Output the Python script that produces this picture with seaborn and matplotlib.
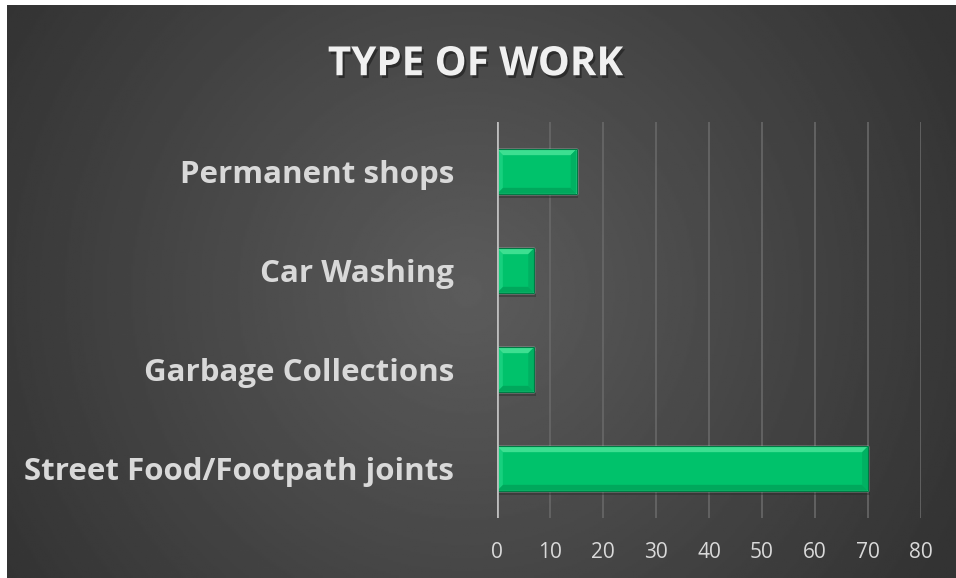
import numpy as np
import pandas as pd
import seaborn as sns
import matplotlib.pyplot as plt
import matplotlib.patheffects as pe
from matplotlib.patches import Polygon, Rectangle

# data
categories = ['Permanent shops', 'Car Washing', 'Garbage Collections', 'Street Food/Footpath joints']
values = [15, 7, 7, 70]
x_ticks = [0, 10, 20, 30, 40, 50, 60, 70, 80]

df = pd.DataFrame({'work': categories, 'count': values})

sns.set_style('dark')
plt.rcParams['font.family'] = ['Open Sans', 'DejaVu Sans']

fig = plt.figure(figsize=(9.56, 5.78), dpi=100, facecolor='white')

# radial gradient background (leaves a thin white strip top/left like the source)
bg = fig.add_axes([7 / 956, 0, 949 / 956, 573 / 578])
yy, xx = np.mgrid[0:1:300j, 0:1.65:500j]
r = np.sqrt((xx - 0.8) ** 2 + (yy - 0.5) ** 2)
shade = 0.36 - 0.16 * np.clip(r / 0.95, 0, 1)
bg.imshow(shade, cmap='gray', vmin=0, vmax=1, aspect='auto', extent=[0, 1, 0, 1])
bg.axis('off')

ax = fig.add_axes([497 / 956, 60 / 578, 424 / 956, 396 / 578])
ax.set_facecolor('none')

sns.barplot(data=df, x='count', y='work', orient='h', width=0.45,
            color='#00c26b', saturation=1, ax=ax, zorder=3)

ax.set_xlim(0, 80)
ax.set_ylim(3.5, -0.5)
ax.set_xticks(x_ticks)
ax.grid(axis='x', color='#686868', linewidth=1.2, zorder=0)
ax.grid(axis='y', visible=False)
ax.axvline(0, color='#bdbdbd', linewidth=2, zorder=4)
for s in ax.spines.values():
    s.set_visible(False)

# soft bevel and shadow on each bar, from the patches seaborn drew
bx = 1.1
by = 0.06
for p in list(ax.patches):
    x0, y0 = p.get_x(), p.get_y()
    w, h = p.get_width(), p.get_height()
    x1, y1 = x0 + w, y0 + h
    ax.add_patch(Rectangle((x0 + 0.3, y0 + 0.04), w, h, facecolor='#262626',
                           alpha=0.4, zorder=2, linewidth=0))
    e = min(bx, w / 2)
    faces = [
        ([(x0, y0), (x1, y0), (x1 - e, y0 + by), (x0 + e, y0 + by)], '#3ddf91'),
        ([(x0, y1), (x1, y1), (x1 - e, y1 - by), (x0 + e, y1 - by)], '#00a85c'),
        ([(x0, y0), (x0 + e, y0 + by), (x0 + e, y1 - by), (x0, y1)], '#17d07e'),
        ([(x1, y0), (x1 - e, y0 + by), (x1 - e, y1 - by), (x1, y1)], '#00b162'),
    ]
    for pts, c in faces:
        ax.add_patch(Polygon(pts, closed=True, facecolor=c, linewidth=0, zorder=3.5))
    ax.add_patch(Rectangle((x0, y0), w, h, facecolor='none', edgecolor='#007a44',
                           linewidth=0.8, zorder=3.6))

ax.set_xlabel('')
ax.set_ylabel('')
ax.tick_params(axis='x', length=0, pad=17, labelsize=15, labelcolor='#d9d9d9')
ax.tick_params(axis='y', length=0, pad=31, labelsize=22.5, labelcolor='#d9d9d9')
for lab in ax.get_yticklabels():
    lab.set_fontweight('bold')

fig.text(0.4975, 0.888, 'TYPE OF WORK', ha='center', va='center', fontsize=29,
         fontweight='bold', color='#f0f0f0',
         path_effects=[pe.SimplePatchShadow(offset=(1.5, -2), shadow_rgbFace='#1a1a1a', alpha=0.6),
                       pe.Normal()])

fig.savefig('out.png', dpi=100, facecolor='white')
